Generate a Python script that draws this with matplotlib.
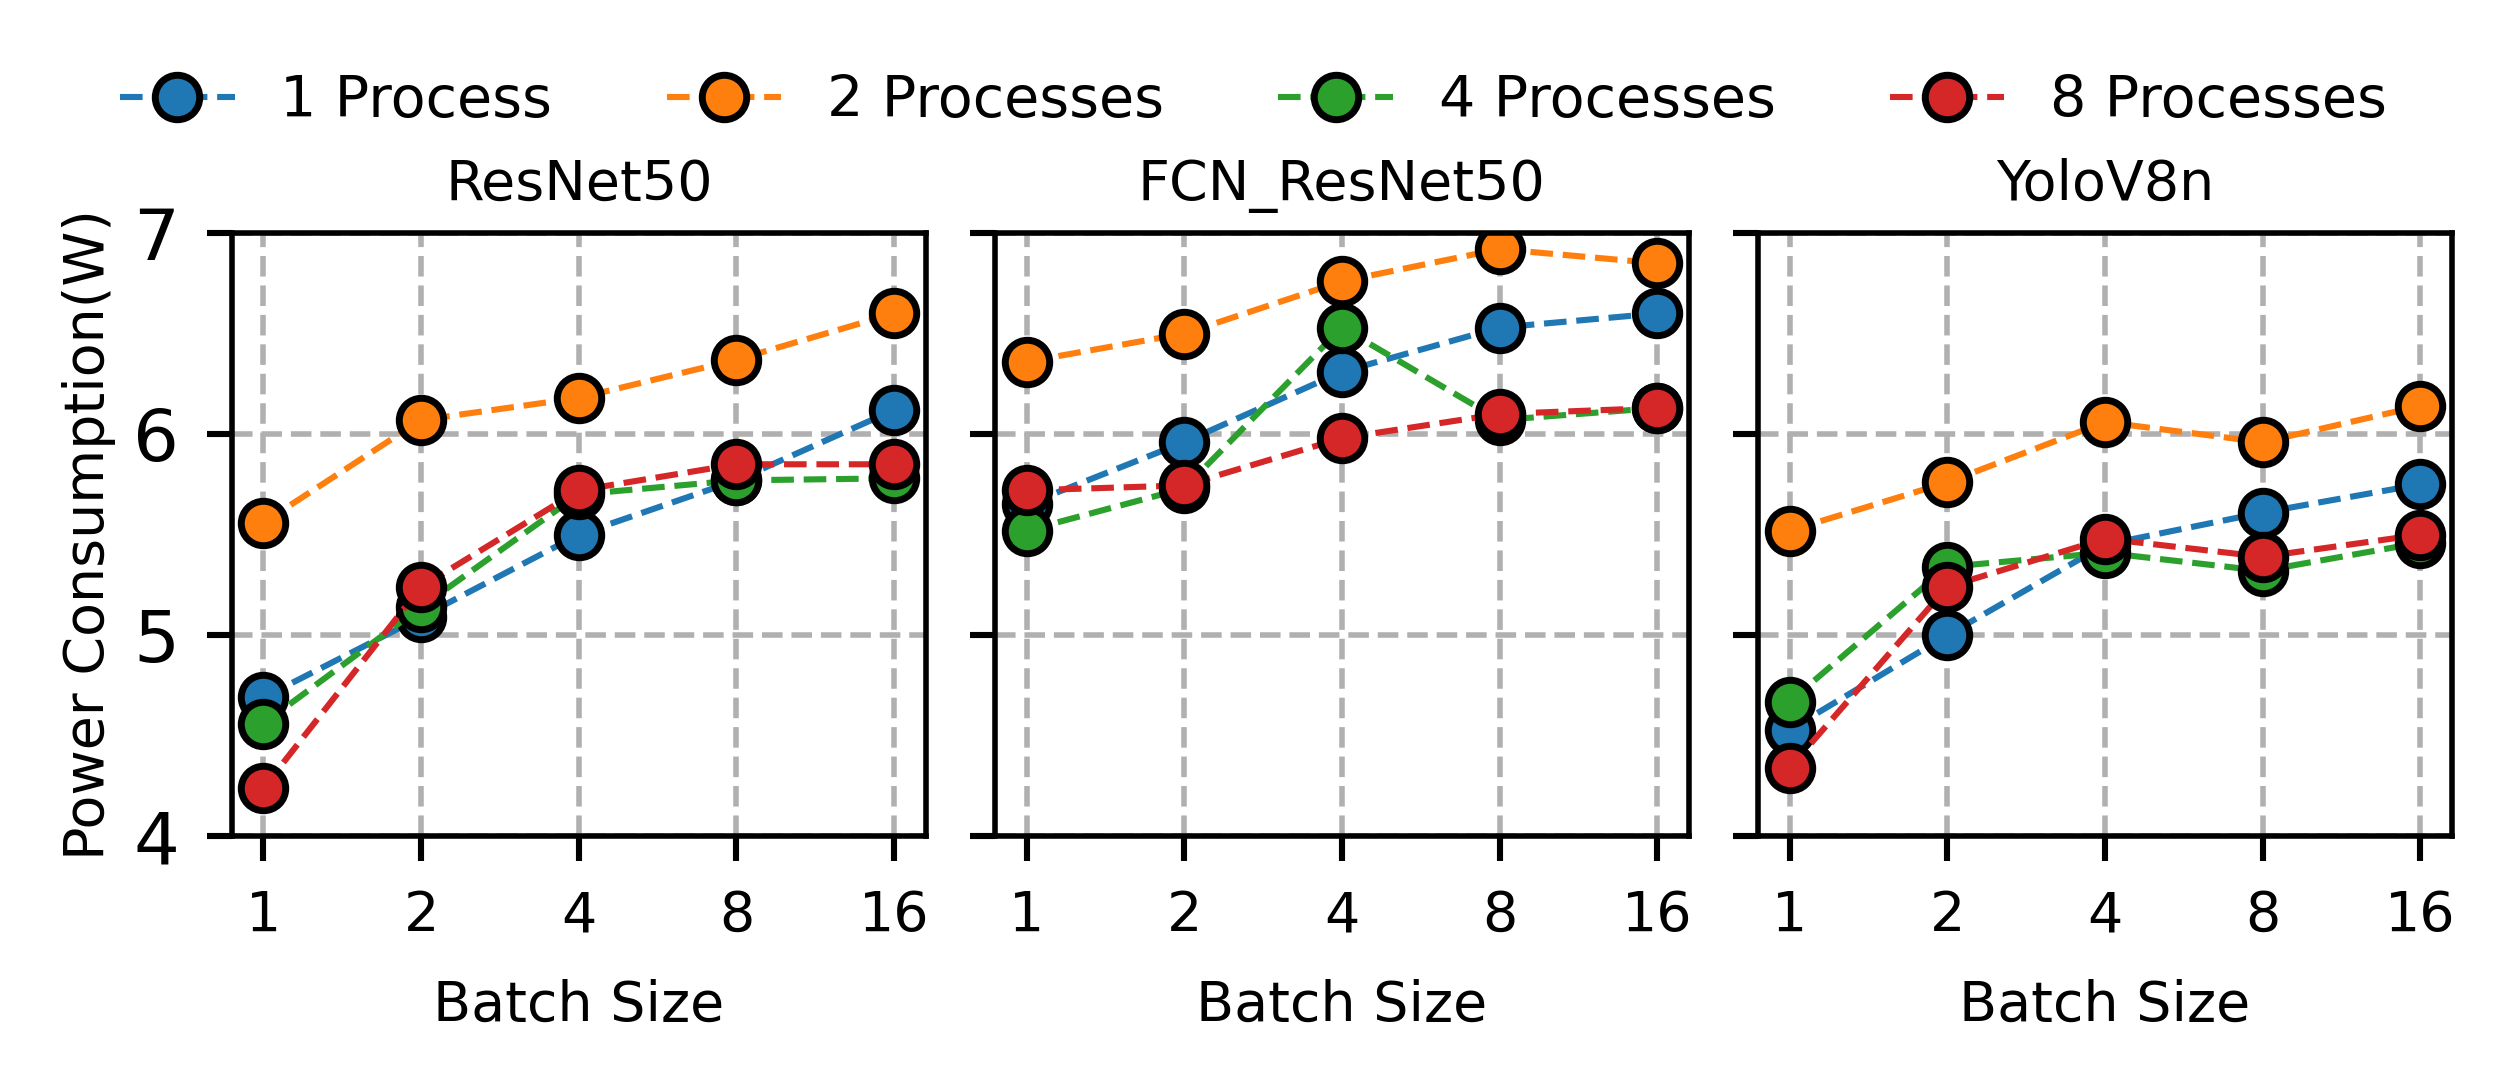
import matplotlib
matplotlib.use("Agg")
import matplotlib.pyplot as plt

batch_sizes = ["1", "2", "4", "8", "16"]
models = ["ResNet50", "FCN_ResNet50", "YoloV8n"]
series_labels = ["1 Process", "2 Processes", "4 Processes", "8 Processes"]
colors = ["#1f77b4", "#ff7f0e", "#2ca02c", "#d62728"]

resnet50_p1 = [4.69, 5.09, 5.50, 5.77, 6.12]
resnet50_p2 = [5.56, 6.07, 6.18, 6.37, 6.60]
resnet50_p4 = [4.56, 5.14, 5.70, 5.77, 5.78]
resnet50_p8 = [4.24, 5.24, 5.72, 5.85, 5.85]

fcn_p1 = [5.65, 5.96, 6.31, 6.53, 6.60]
fcn_p2 = [6.36, 6.50, 6.76, 6.92, 6.85]
fcn_p4 = [5.52, 5.73, 6.53, 6.07, 6.13]
fcn_p8 = [5.72, 5.745, 5.98, 6.10, 6.13]

yolo_p1 = [4.53, 5.00, 5.45, 5.61, 5.75]
yolo_p2 = [5.52, 5.76, 6.06, 5.96, 6.14]
yolo_p4 = [4.67, 5.34, 5.41, 5.32, 5.46]
yolo_p8 = [4.34, 5.24, 5.48, 5.39, 5.50]

data = [
    [resnet50_p1, resnet50_p2, resnet50_p4, resnet50_p8],
    [fcn_p1, fcn_p2, fcn_p4, fcn_p8],
    [yolo_p1, yolo_p2, yolo_p4, yolo_p8],
]

plt.rcParams['font.family'] = ['DejaVu Sans']
plt.rcParams['axes.linewidth'] = 1.0
fig, axes = plt.subplots(1, 3, figsize=(2507 / 400, 1079 / 400), dpi=400, sharey=True)
fig.subplots_adjust(left=0.0925, right=0.978, top=0.784, bottom=0.225, wspace=0.1)

handles = []
for ax, title, series in zip(axes, models, data):
    for vals, lab, c in zip(series, series_labels, colors):
        h, = ax.plot(batch_sizes, vals, linestyle='--', color=c, lw=1.1,
                     marker='o', markersize=8.0, markerfacecolor=c,
                     markeredgecolor='black', markeredgewidth=1.25, label=lab)
        if ax is axes[0]:
            handles.append(h)
    ax.set_title(title, fontsize=10)
    ax.set_xlabel("Batch Size", fontsize=10, labelpad=6.5)
    ax.set_ylim(4, 7)
    ax.set_yticks([4, 5, 6, 7])
    ax.grid(True, linestyle='--', color='#b0b0b0', lw=1.0)
    ax.set_axisbelow(True)
    ax.tick_params(axis='x', labelsize=10, length=4.5, width=1.1, pad=5)
    ax.tick_params(axis='y', labelsize=13, length=4.5, width=1.1, pad=5)

axes[0].set_ylabel("Power Consumption(W)", fontsize=10, labelpad=3)

fig.legend(handles=handles, labels=series_labels, loc='center',
           bbox_to_anchor=(0.5, 0.906), ncol=4, frameon=False, fontsize=10.3)

fig.savefig("out.png", dpi=400)
